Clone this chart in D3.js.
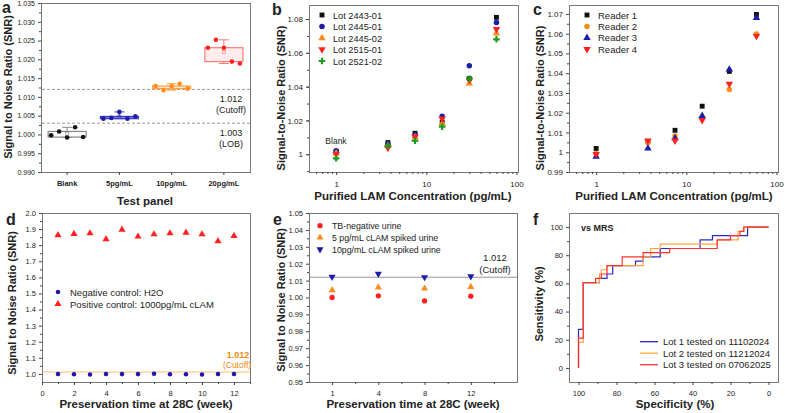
<!DOCTYPE html>
<html>
<head>
<meta charset="utf-8">
<script src="https://cdn.jsdelivr.net/npm/d3@7"></script>
<style>
  body { margin: 0; background: #fff; }
  svg { display: block; }
  text { font-family: "Liberation Sans", Arial, sans-serif; fill: #222; }
</style>
</head>
<body>
<div id="chart"></div>
<script>
// ---- panel a: test panel box plots
const panelCats = ["Blank", "5pg/mL", "10pg/mL", "20pg/mL"]
const blankVals = [0.9998, 1.0008, 0.9992, 1.0019, 0.9993]
const pg5Vals = [1.0042, 1.0044, 1.0060, 1.0042, 1.0048]
const pg10Vals = [1.0129, 1.0118, 1.0129, 1.0135, 1.0122]
const pg20Vals = [1.0231, 1.0252, 1.0231, 1.0194, 1.0189]
const cutoff = 1.012
const lob = 1.003

// ---- panel b: lots
const concs = [1, 3.75, 7.5, 15, 30, 60]
const lotNames = ["Lot 2443-01", "Lot 2445-01", "Lot 2445-02", "Lot 2515-01", "Lot 2521-02"]
const lot2443 = [1.0016, 1.0069, 1.0124, 1.0190, 1.0447, 1.0810]
const lot2445a = [1.0020, 1.0060, 1.0114, 1.0225, 1.0524, 1.0780]
const lot2445b = [1.0006, 1.0050, 1.0100, 1.0183, 1.0420, 1.0715]
const lot2515 = [1.0000, 1.0037, 1.0104, 1.0210, 1.0440, 1.0740]
const lot2521 = [0.9976, 1.0050, 1.0080, 1.0163, 1.0447, 1.0680]

// ---- panel c: readers
const readerNames = ["Reader 1", "Reader 2", "Reader 3", "Reader 4"]
const reader1 = [1.0019, 1.0055, 1.0111, 1.0233, 1.0409, 1.0697]
const reader2 = [0.9993, 1.0048, 1.0082, 1.0172, 1.0317, 1.0598]
const reader3 = [0.9978, 1.0020, 1.0071, 1.0184, 1.0419, 1.0680]
const reader4 = [0.9990, 1.0058, 1.0058, 1.0162, 1.0346, 1.0588]

// ---- panel d: stability of controls
const weeks = [1, 2, 3, 4, 5, 6, 7, 8, 9, 10, 11, 12]
const negCtrl = [1.000, 0.998, 0.997, 1.000, 0.999, 0.999, 1.001, 0.998, 0.998, 0.997, 1.000, 1.000]
const posCtrl = [1.862, 1.870, 1.874, 1.837, 1.897, 1.854, 1.868, 1.874, 1.878, 1.868, 1.825, 1.858]

// ---- panel e: spiked urine
const eWeeks = ["1", "4", "8", "12"]
const tbNeg = [1.0000, 1.0010, 0.9980, 1.0008]
const spiked5 = [1.0043, 1.0060, 1.0053, 1.0063]
const spiked10 = [1.0122, 1.0140, 1.0120, 1.0125]

// ---- panel f: ROC vs MRS, [specificity, sensitivity]
const rocNames = ["Lot 1 tested on 11102024", "Lot 2 tested on 11212024", "Lot 3 tested on 07062025"]
const rocLot1 = [[100, 0], [100, 27.3], [97.5, 27.3], [97.5, 60.6], [89, 60.6], [89, 63.6], [85, 63.6], [85, 66.7], [82, 66.7], [82, 72.7], [70, 72.7], [70, 75.8], [66, 75.8], [66, 78.8], [57, 78.8], [57, 84.8], [36, 84.8], [36, 90.9], [29.5, 90.9], [29.5, 93.9], [11, 93.9], [11, 100], [0, 100]]
const rocLot2 = [[100, 0], [100, 18.2], [97.5, 18.2], [97.5, 60.6], [89, 60.6], [89, 66.7], [88, 66.7], [88, 69.7], [85, 69.7], [85, 72.7], [66, 72.7], [66, 78.8], [62, 78.8], [62, 84.8], [57, 84.8], [57, 87.9], [27, 87.9], [27, 90.9], [16, 90.9], [16, 97], [13, 97], [13, 100], [0, 100]]
const rocLot3 = [[100, 0], [100, 21.2], [97.5, 21.2], [97.5, 60.6], [91, 60.6], [91, 63.6], [88, 63.6], [88, 66.7], [85, 66.7], [85, 72.7], [77, 72.7], [77, 78.8], [66, 78.8], [66, 81.8], [52, 81.8], [52, 84.8], [27, 84.8], [27, 90.9], [20, 90.9], [20, 93.9], [15, 93.9], [15, 97], [13, 97], [13, 100], [0, 100]]

const BLUE = "#1c1ca8", ORANGE = "#ff8c1a", RED = "#ff2020", GREEN = "#1e9a1e"

let svg = d3.select("#chart").append("svg")
  .attr("width", 785)
  .attr("height", 413)

const frame = (x0, y0, x1, y1) => {
  svg.append("rect")
    .attr("x", x0 + 0.5).attr("y", y0 + 0.5)
    .attr("width", x1 - x0).attr("height", y1 - y0)
    .attr("fill", "none").attr("stroke", "#777")
}

const drawAxis = (axis, transform, size) => {
  let g = svg.append("g").attr("transform", transform).call(axis)
  g.select(".domain").remove()
  g.selectAll("line").attr("stroke", "#444")
  g.selectAll("text").attr("font-size", size || 8).style("fill", "#222")
  return g
}

const yTitle = (txt, x, yc) => {
  svg.append("text")
    .attr("transform", "translate(" + x + "," + yc + ") rotate(-90)")
    .attr("text-anchor", "middle").attr("font-weight", "bold").attr("font-size", 11)
    .text(txt)
}
const xTitle = (txt, xc, y) => {
  svg.append("text").attr("x", xc).attr("y", y)
    .attr("text-anchor", "middle").attr("font-weight", "bold").attr("font-size", 11.5)
    .text(txt)
}
const letter = (txt, x, y) => {
  svg.append("text").attr("x", x).attr("y", y)
    .attr("font-weight", "bold").attr("font-size", 16).text(txt)
}
const label = (txt, x, y, size, anchor, color) => {
  return svg.append("text").attr("x", x).attr("y", y)
    .attr("font-size", size).attr("text-anchor", anchor || "start")
    .style("fill", color || "#222").text(txt)
}
const sym = (type, size) => d3.symbol().type(type).size(size)()
const triDown = "rotate(180)"

// ================= panel a
{
  let x = d3.scaleBand().domain(panelCats).range([41, 250])
  let y = d3.scaleLinear().domain([0.99, 1.035]).range([172, 3])
  let minor = d3.range(0.9925, 1.035, 0.005)

  frame(41, 3, 250, 172)
  drawAxis(d3.axisLeft(y).tickValues(d3.range(0.99, 1.0351, 0.005)).tickSize(3).tickFormat(d3.format(".3f")), "translate(41,0)", 7)
  drawAxis(d3.axisLeft(y).tickValues(minor).tickSize(2).tickFormat(""), "translate(41,0)")
  let xa = drawAxis(d3.axisBottom(x).tickSize(3), "translate(0,172)", 7.5)
  xa.selectAll("text").attr("font-weight", "bold").attr("dy", "1.1em")

  // reference lines
  ;[cutoff, lob].forEach(v => {
    svg.append("line")
      .attr("x1", 42).attr("x2", 250).attr("y1", y(v)).attr("y2", y(v))
      .attr("stroke", "#999").attr("stroke-dasharray", "3,2")
  })
  label("1.012", 231, 102, 9, "middle")
  label("(Cutoff)", 231, 113, 9, "middle")
  label("1.003", 231, 136, 9, "middle")
  label("(LOB)", 231, 147, 9, "middle")

  let groups = [
    { vals: blankVals, dot: "#111", stroke: "#888", fill: "#fff" },
    { vals: pg5Vals, dot: BLUE, stroke: "#3a3ac0", fill: "#7c7cd8" },
    { vals: pg10Vals, dot: ORANGE, stroke: "#ffa040", fill: "#ffe6c4" },
    { vals: pg20Vals, dot: RED, stroke: "#ff7a7a", fill: "#ffecec" }
  ]
  let bw = 38
  groups.forEach((grp, i) => {
    let cx = x(panelCats[i]) + x.bandwidth() / 2
    let s = grp.vals.slice().sort(d3.ascending)
    let q1 = d3.quantile(s, 0.25), q3 = d3.quantile(s, 0.75)
    let lo = s[0], hi = s[s.length - 1]
    // whiskers
    ;[[lo, q1], [q3, hi]].forEach(([a, b]) => {
      svg.append("line").attr("x1", cx).attr("x2", cx).attr("y1", y(a)).attr("y2", y(b)).attr("stroke", grp.stroke)
    })
    ;[lo, hi].forEach(v => {
      svg.append("line").attr("x1", cx - 5).attr("x2", cx + 5).attr("y1", y(v)).attr("y2", y(v)).attr("stroke", grp.stroke)
    })
    svg.append("rect")
      .attr("x", cx - bw / 2).attr("width", bw)
      .attr("y", y(q3)).attr("height", Math.max(1.5, y(q1) - y(q3)))
      .attr("fill", grp.fill).attr("stroke", grp.stroke).attr("stroke-width", 1.2)
    svg.append("rect")
      .attr("x", cx - 1.5).attr("y", y(d3.mean(s)) - 1.5).attr("width", 3).attr("height", 3)
      .attr("fill", "none").attr("stroke", grp.stroke).attr("stroke-width", 0.6)
    svg.selectAll(null).data(grp.vals).enter().append("circle")
      .attr("cx", (d, j) => cx + (j - 2) * 8)
      .attr("cy", d => y(d))
      .attr("r", 2.3)
      .attr("fill", grp.dot)
  })

  yTitle("Signal to Noise Ratio (SNR)", 12, 87)
  xTitle("Test panel", 145, 205)
  letter("a", 2, 13)
}

// ================= shared log-axis panels (b, c)
const logPanel = (x0, x1, yDomain, yMajor, yMinor, yFmt) => {
  let x = d3.scaleLog().domain([0.5, 104]).range([x0, x1])
  let y = d3.scaleLinear().domain(yDomain).range([172, 5])
  frame(x0, 5, x1, 172)
  drawAxis(d3.axisLeft(y).tickValues(yMajor).tickSize(3).tickFormat(yFmt), "translate(" + x0 + ",0)", 8)
  drawAxis(d3.axisLeft(y).tickValues(yMinor).tickSize(2).tickFormat(""), "translate(" + x0 + ",0)")
  drawAxis(d3.axisBottom(x).tickValues([1, 10, 100]).tickSize(3).tickFormat(d3.format("d")), "translate(0,172)", 8)
    .selectAll("text").attr("dy", "1.1em")
  let minorX = [0.6, 0.7, 0.8, 0.9, 2, 3, 4, 5, 6, 7, 8, 9, 20, 30, 40, 50, 60, 70, 80, 90]
  drawAxis(d3.axisBottom(x).tickValues(minorX).tickSize(2).tickFormat(""), "translate(0,172)")
  return { x, y }
}

const drawSeries = (sc, xs, ys, shape, color, rot) => {
  svg.selectAll(null).data(ys).enter().append("path")
    .attr("d", sym(shape, 24))
    .attr("transform", (d, i) => "translate(" + sc.x(xs[i]) + "," + sc.y(d) + ")" + (rot ? " " + rot : ""))
    .attr("fill", color)
}

// ================= panel b
{
  let sc = logPanel(309, 518, [0.9895, 1.0883], [1, 1.02, 1.04, 1.06, 1.08],
    d3.range(0.99, 1.088, 0.01), d => d === 1 ? "1" : d3.format(".2f")(d))
  let series = [
    { v: lot2443, shape: d3.symbolSquare, c: "#111" },
    { v: lot2445a, shape: d3.symbolCircle, c: BLUE },
    { v: lot2445b, shape: d3.symbolTriangle, c: ORANGE },
    { v: lot2515, shape: d3.symbolTriangle, c: RED, rot: triDown },
    { v: lot2521, shape: d3.symbolCross, c: GREEN }
  ]
  series.forEach((s, i) => {
    drawSeries(sc, concs, s.v, s.shape, s.c, s.rot)
    svg.append("path").attr("d", sym(s.shape, 24))
      .attr("transform", "translate(322," + (15 + i * 11.5) + ")" + (s.rot ? " " + s.rot : ""))
      .attr("fill", s.c)
    label(lotNames[i], 333, 18.5 + i * 11.5, 9.2)
  })
  label("Blank", 336, 144, 8.5, "middle")
  yTitle("Signal-to-Noise Ratio (SNR)", 285, 98)
  xTitle("Purified LAM Concentration (pg/mL)", 413, 200)
  letter("b", 272, 15)
}

// ================= panel c
{
  let sc = logPanel(569, 778, [0.99, 1.0745], [0.99, 1, 1.01, 1.02, 1.03, 1.04, 1.05, 1.06, 1.07],
    d3.range(0.995, 1.074, 0.01), d => d === 1 ? "1" : d3.format(".2f")(d))
  let series = [
    { v: reader1, shape: d3.symbolSquare, c: "#111" },
    { v: reader2, shape: d3.symbolCircle, c: ORANGE },
    { v: reader3, shape: d3.symbolTriangle, c: BLUE },
    { v: reader4, shape: d3.symbolTriangle, c: RED, rot: triDown }
  ]
  series.forEach((s, i) => {
    drawSeries(sc, concs, s.v, s.shape, s.c, s.rot)
    svg.append("path").attr("d", sym(s.shape, 24))
      .attr("transform", "translate(587," + (15 + i * 11.4) + ")" + (s.rot ? " " + s.rot : ""))
      .attr("fill", s.c)
    label(readerNames[i], 598, 18.5 + i * 11.4, 9.5)
  })
  yTitle("Signal-to-Noise Ratio (SNR)", 544, 98)
  xTitle("Purified LAM Concentration (pg/mL)", 674, 200)
  letter("c", 533, 15)
}

// ================= panel d
{
  let x = d3.scaleLinear().domain([0, 13]).range([42, 250])
  let y = d3.scaleLinear().domain([0.95, 2.0]).range([382, 213])
  frame(42, 213, 250, 382)
  drawAxis(d3.axisLeft(y).tickValues(d3.range(1, 2.01, 0.1)).tickSize(3).tickFormat(d3.format(".1f")), "translate(42,0)", 7.5)
  drawAxis(d3.axisLeft(y).tickValues(d3.range(1.05, 2, 0.1)).tickSize(2).tickFormat(""), "translate(42,0)")
  drawAxis(d3.axisBottom(x).tickValues(d3.range(0, 13, 2)).tickSize(3), "translate(0,382)", 7.5)
    .selectAll("text").attr("dy", "1.1em")
  drawAxis(d3.axisBottom(x).tickValues(d3.range(1, 14, 2)).tickSize(2).tickFormat(""), "translate(0,382)")

  svg.append("line").attr("x1", 43).attr("x2", 250).attr("y1", y(cutoff)).attr("y2", y(cutoff))
    .attr("stroke", "#ffbb66").attr("stroke-width", 1.2)
  label("1.012", 238, 357.5, 9, "middle", "#f08a10").attr("font-weight", "bold")
  label("(Cutoff)", 237, 367.5, 8.5, "middle", "#f08a10")

  svg.selectAll(null).data(negCtrl).enter().append("circle")
    .attr("cx", (d, i) => x(weeks[i])).attr("cy", d => y(d)).attr("r", 2.3).attr("fill", BLUE)
  svg.selectAll(null).data(posCtrl).enter().append("path")
    .attr("d", sym(d3.symbolTriangle, 22))
    .attr("transform", (d, i) => "translate(" + x(weeks[i]) + "," + y(d) + ")")
    .attr("fill", RED)

  svg.append("circle").attr("cx", 58).attr("cy", 292).attr("r", 2.3).attr("fill", BLUE)
  label("Negative control: H2O", 70, 295.5, 9.5)
  svg.append("path").attr("d", sym(d3.symbolTriangle, 22)).attr("transform", "translate(58,304)").attr("fill", RED)
  label("Positive control: 1000pg/mL cLAM", 70, 307.5, 9.5)

  yTitle("Signal to Noise Ratio (SNR)", 16, 303)
  xTitle("Preservation time at 28C (week)", 146, 408)
  letter("d", 6, 225)
}

// ================= panel e
{
  let x = d3.scaleLinear().domain([-0.5, 4]).range([309, 517])
  let y = d3.scaleLinear().domain([0.95, 1.05]).range([382, 213])
  frame(309, 213, 517, 382)
  drawAxis(d3.axisLeft(y).tickValues(d3.range(0.95, 1.0501, 0.01)).tickSize(3).tickFormat(d3.format(".2f")), "translate(309,0)", 7.5)
  drawAxis(d3.axisLeft(y).tickValues(d3.range(0.955, 1.05, 0.01)).tickSize(2).tickFormat(""), "translate(309,0)")
  drawAxis(d3.axisBottom(x).tickValues([0, 1, 2, 3]).tickSize(3).tickFormat(i => eWeeks[i]), "translate(0,382)", 7.5)
    .selectAll("text").attr("dy", "1.1em")
  drawAxis(d3.axisBottom(x).tickValues([0.5, 1.5, 2.5, 3.5]).tickSize(2).tickFormat(""), "translate(0,382)")

  svg.append("line").attr("x1", 310).attr("x2", 517).attr("y1", y(cutoff)).attr("y2", y(cutoff))
    .attr("stroke", "#999").attr("stroke-width", 1.1)
  label("1.012", 495, 261, 9.5, "middle")
  label("(Cutoff)", 495, 272.5, 9.5, "middle")

  let series = [
    { v: tbNeg, shape: d3.symbolCircle, c: RED, name: "TB-negative urine" },
    { v: spiked5, shape: d3.symbolTriangle, c: ORANGE, name: "5 pg/mL cLAM spiked urine" },
    { v: spiked10, shape: d3.symbolTriangle, c: BLUE, rot: triDown, name: "10pg/mL cLAM spiked urine" }
  ]
  series.forEach((s, k) => {
    svg.selectAll(null).data(s.v).enter().append("path")
      .attr("d", sym(s.shape, 22))
      .attr("transform", (d, i) => "translate(" + x(i) + "," + y(d) + ")" + (s.rot ? " " + s.rot : ""))
      .attr("fill", s.c)
    svg.append("path").attr("d", sym(s.shape, 22))
      .attr("transform", "translate(320," + (225.7 + k * 11.8) + ")" + (s.rot ? " " + s.rot : ""))
      .attr("fill", s.c)
    label(s.name, 332, 229 + k * 11.8, 8.8)
  })

  yTitle("Signal to Noise Ratio (SNR)", 285, 300)
  xTitle("Preservation time at 28C (week)", 413, 408)
  letter("e", 273, 225)
}

// ================= panel f
{
  let x = d3.scaleLinear().domain([105, -5]).range([569, 778])
  let y = d3.scaleLinear().domain([-10, 110]).range([382, 213])
  frame(569, 213, 778, 382)
  drawAxis(d3.axisLeft(y).tickValues(d3.range(0, 101, 20)).tickSize(3), "translate(569,0)", 7.5)
  drawAxis(d3.axisLeft(y).tickValues(d3.range(10, 110, 20)).tickSize(2).tickFormat(""), "translate(569,0)")
  drawAxis(d3.axisBottom(x).tickValues(d3.range(0, 101, 20)).tickSize(3), "translate(0,382)", 7.5)
    .selectAll("text").attr("dy", "1.1em")
  drawAxis(d3.axisBottom(x).tickValues(d3.range(10, 100, 20)).tickSize(2).tickFormat(""), "translate(0,382)")

  let line = d3.line().x(d => x(d[0])).y(d => y(d[1]))
  let curves = [
    { v: rocLot1, c: "#2a2ac8" },
    { v: rocLot2, c: "#ffa640" },
    { v: rocLot3, c: "#ff3030" }
  ]
  curves.forEach((cv, i) => {
    svg.append("path").datum(cv.v).attr("d", line)
      .attr("fill", "none").attr("stroke", cv.c).attr("stroke-width", 1.2)
    svg.append("line").attr("x1", 640).attr("x2", 658).attr("y1", 341.7 + i * 11.5).attr("y2", 341.7 + i * 11.5)
      .attr("stroke", cv.c).attr("stroke-width", 1.3)
    label(rocNames[i], 663, 345 + i * 11.5, 9.5)
  })
  label("vs MRS", 581, 231, 9, "start").attr("font-weight", "bold")

  yTitle("Sensitivity (%)", 543, 304)
  xTitle("Specificity (%)", 675, 408)
  letter("f", 533, 225)
}
</script>
</body>
</html>
